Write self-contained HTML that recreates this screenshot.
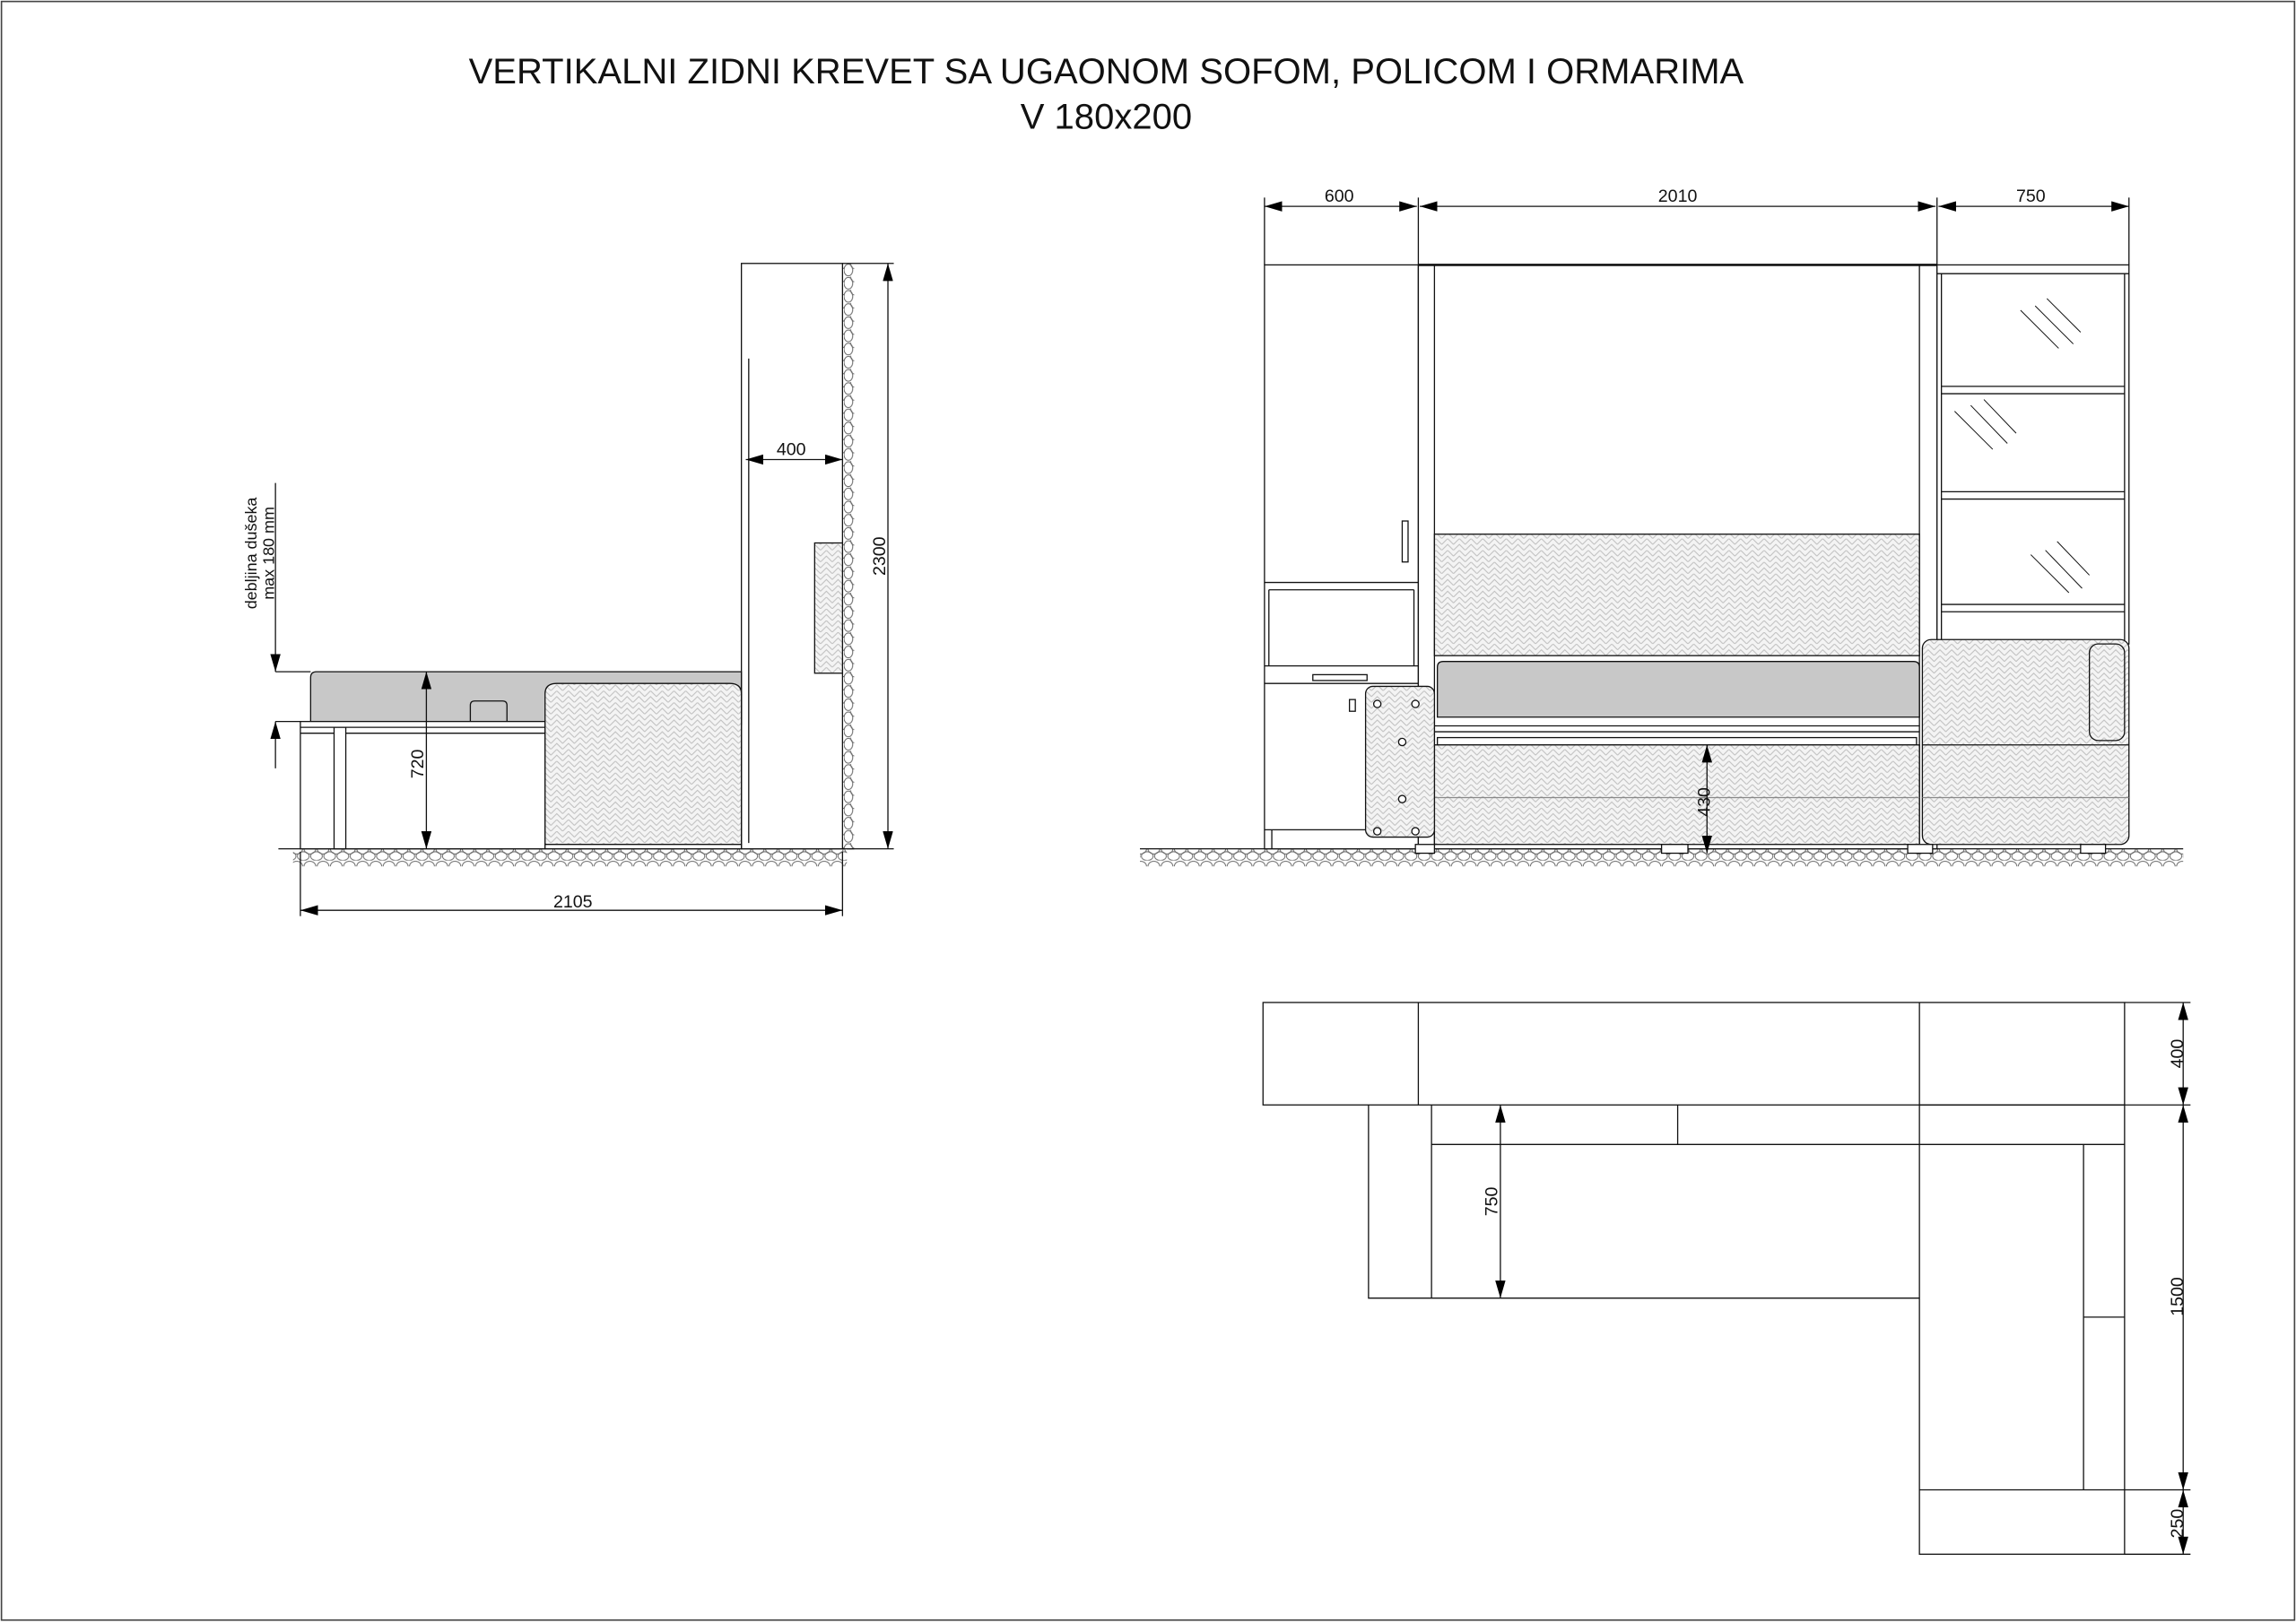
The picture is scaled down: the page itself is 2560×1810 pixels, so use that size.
<!DOCTYPE html>
<html><head><meta charset="utf-8"><style>
html,body{margin:0;padding:0;background:#fff;}
svg{display:block;}
text{font-family:"Liberation Sans",Arial,sans-serif;fill:#111;}
</style></head><body>
<svg width="2560" height="1810" viewBox="0 0 1567 1109" preserveAspectRatio="none" xmlns="http://www.w3.org/2000/svg">
<defs>
<pattern id="hb" width="8" height="8" patternUnits="userSpaceOnUse">
<rect width="8" height="8" fill="#f4f4f4"/>
<path d="M0 4 L4 0 L8 4 M0 8 L4 4 L8 8" stroke="#bdbdbd" stroke-width="0.6" fill="none"/>
</pattern>
<pattern id="gr" width="9" height="12" patternUnits="userSpaceOnUse">
<ellipse cx="4.5" cy="4" rx="4" ry="3.5" fill="none" stroke="#666" stroke-width="0.6"/>
<ellipse cx="0" cy="9" rx="4" ry="3" fill="none" stroke="#666" stroke-width="0.6"/>
<ellipse cx="9" cy="9" rx="4" ry="3" fill="none" stroke="#666" stroke-width="0.6"/>
</pattern>
<pattern id="gv" width="8" height="9" patternUnits="userSpaceOnUse">
<ellipse cx="3" cy="4.5" rx="3" ry="4" fill="none" stroke="#666" stroke-width="0.6"/>
<ellipse cx="7" cy="0" rx="2.5" ry="3.5" fill="none" stroke="#666" stroke-width="0.6"/>
</pattern>
<marker id="ar" markerWidth="12" markerHeight="7" refX="12" refY="3.5" orient="auto" markerUnits="userSpaceOnUse"><path d="M0 0 L12 3.5 L0 7Z" fill="#000"/></marker>
<marker id="al" markerWidth="12" markerHeight="7" refX="0" refY="3.5" orient="auto" markerUnits="userSpaceOnUse"><path d="M12 0 L0 3.5 L12 7Z" fill="#000"/></marker>
</defs>
<rect x="1" y="1" width="1565" height="1106" fill="none" stroke="#444" stroke-width="1"/>
<text x="755" y="57" font-size="24.5" text-anchor="middle">VERTIKALNI ZIDNI KREVET SA UGAONOM SOFOM, POLICOM I ORMARIMA</text>
<text x="755" y="88" font-size="24.5" text-anchor="middle">V 180x200</text>

<g stroke="#111" stroke-width="0.8" fill="none">
<!-- LEFT SIDE VIEW -->
<rect x="575" y="180" width="8" height="400" fill="url(#gv)" stroke="none"/>
<rect x="200" y="580" width="378" height="12" fill="url(#gr)" stroke="none"/>
<line x1="190" y1="580" x2="583" y2="580"/>
<rect x="506" y="180" width="69" height="400" fill="#fff"/>
<line x1="511" y1="245" x2="511" y2="576"/>
<rect x="556" y="371" width="19" height="89" fill="url(#hb)"/>
<line x1="509" y1="314" x2="575" y2="314" marker-start="url(#al)" marker-end="url(#ar)"/>
<line x1="575" y1="180" x2="610" y2="180"/><line x1="578" y1="580" x2="610" y2="580"/>
<line x1="606" y1="180" x2="606" y2="580" marker-start="url(#al)" marker-end="url(#ar)"/>
<path d="M212 495 L212 463 Q212 459 216 459 L506 459 L506 495Z" fill="#c8c8c8"/>
<path d="M321 495 L321 482 Q321 479 324 479 L343 479 Q346 479 346 482 L346 495" />
<rect x="205" y="493" width="167" height="87" fill="#fff"/>
<line x1="205" y1="497" x2="372" y2="497"/><line x1="205" y1="501" x2="372" y2="501"/>
<rect x="228" y="497" width="8" height="83" fill="#fff"/>
<path d="M372 577 L372 474 Q372 467 380 467 L498 467 Q506 467 506 474 L506 577Z" fill="url(#hb)"/>
<rect x="372" y="577" width="134" height="3" fill="#fff"/>
<line x1="291" y1="459" x2="291" y2="580" marker-start="url(#al)" marker-end="url(#ar)"/>
<line x1="188" y1="330" x2="188" y2="459" marker-end="url(#ar)"/>
<line x1="188" y1="459" x2="212" y2="459"/>
<line x1="188" y1="493" x2="205" y2="493"/>
<line x1="188" y1="525" x2="188" y2="493" marker-end="url(#ar)"/>
<line x1="205" y1="582" x2="205" y2="626"/><line x1="575" y1="582" x2="575" y2="626"/>
<line x1="205" y1="622" x2="575" y2="622" marker-start="url(#al)" marker-end="url(#ar)"/>

<!-- FRONT ELEVATION -->
<rect x="778" y="580" width="712" height="12" fill="url(#gr)" stroke="none"/>
<line x1="778" y1="580" x2="1490" y2="580"/>
<line x1="863" y1="135" x2="863" y2="181"/><line x1="968" y1="135" x2="968" y2="181"/>
<line x1="1322" y1="135" x2="1322" y2="181"/><line x1="1453" y1="135" x2="1453" y2="181"/>
<line x1="863" y1="141" x2="967" y2="141" marker-start="url(#al)" marker-end="url(#ar)"/>
<line x1="969" y1="141" x2="1321" y2="141" marker-start="url(#al)" marker-end="url(#ar)"/>
<line x1="1323" y1="141" x2="1453" y2="141" marker-start="url(#al)" marker-end="url(#ar)"/>
<rect x="863" y="181" width="105" height="399" fill="#fff"/>
<line x1="863" y1="398" x2="968" y2="398"/><line x1="866" y1="403" x2="965" y2="403"/>
<line x1="866" y1="403" x2="866" y2="455"/><line x1="965" y1="403" x2="965" y2="455"/>
<line x1="863" y1="455" x2="968" y2="455"/><line x1="863" y1="467" x2="968" y2="467"/>
<rect x="957" y="356" width="4" height="28"/>
<rect x="896" y="461" width="37" height="4"/>
<rect x="921" y="478" width="4" height="8"/>
<line x1="863" y1="567" x2="935" y2="567"/><line x1="868" y1="567" x2="868" y2="580"/>
<rect x="968" y="181" width="354" height="399" fill="#fff"/>
<line x1="968" y1="181" x2="1322" y2="181" stroke-width="1.6"/>
<line x1="979" y1="181" x2="979" y2="580"/><line x1="1310" y1="181" x2="1310" y2="580"/>
<rect x="979" y="365" width="331" height="83" fill="url(#hb)"/>
<path d="M981 490 L981 456 Q981 452 985 452 L1306 452 Q1310 452 1310 456 L1310 490Z" fill="#c8c8c8"/>
<line x1="979" y1="496" x2="1310" y2="496"/><line x1="979" y1="500" x2="1310" y2="500"/>
<rect x="981" y="504" width="327" height="5"/>
<rect x="979" y="509" width="331" height="68" fill="url(#hb)"/>
<line x1="979" y1="545" x2="1310" y2="545" stroke="#888"/>
<rect x="932" y="469" width="47" height="103" rx="5" fill="url(#hb)"/>
<g fill="#fff"><circle cx="940" cy="481" r="2.5"/><circle cx="966" cy="481" r="2.5"/><circle cx="957" cy="507" r="2.5"/><circle cx="957" cy="546" r="2.5"/><circle cx="940" cy="568" r="2.5"/><circle cx="966" cy="568" r="2.5"/></g>
<rect x="1322" y="181" width="131" height="259" fill="#fff"/>
<line x1="1325" y1="187" x2="1325" y2="440"/><line x1="1450" y1="187" x2="1450" y2="440"/>
<line x1="1322" y1="187" x2="1453" y2="187"/>
<line x1="1325" y1="264" x2="1450" y2="264"/><line x1="1325" y1="269" x2="1450" y2="269"/>
<line x1="1325" y1="336" x2="1450" y2="336"/><line x1="1325" y1="341" x2="1450" y2="341"/>
<line x1="1325" y1="413" x2="1450" y2="413"/><line x1="1325" y1="418" x2="1450" y2="418"/>
<g stroke-width="0.6"><line x1="1379" y1="212" x2="1405" y2="238"/><line x1="1389" y1="209" x2="1415" y2="235"/><line x1="1397" y1="204" x2="1420" y2="227"/>
<line x1="1334" y1="281" x2="1360" y2="307"/><line x1="1345" y1="277" x2="1370" y2="303"/><line x1="1354" y1="273" x2="1376" y2="296"/>
<line x1="1386" y1="379" x2="1412" y2="405"/><line x1="1396" y1="376" x2="1421" y2="402"/><line x1="1404" y1="370" x2="1426" y2="393"/></g>
<rect x="1312" y="437" width="141" height="140" rx="6" fill="url(#hb)"/>
<rect x="1426" y="440" width="24" height="66" rx="6" fill="url(#hb)"/>
<line x1="1312" y1="509" x2="1453" y2="509"/>
<line x1="1312" y1="545" x2="1453" y2="545" stroke="#888"/>
<g fill="#fff"><rect x="966" y="577" width="13" height="6"/><rect x="1134" y="577" width="18" height="6"/><rect x="1302" y="577" width="17" height="6"/><rect x="1420" y="577" width="17" height="6"/></g>
<line x1="1165" y1="509" x2="1165" y2="583" marker-start="url(#al)" marker-end="url(#ar)"/>

<!-- PLAN -->
<rect x="862" y="685" width="588" height="70"/>
<line x1="968" y1="685" x2="968" y2="755"/><line x1="1310" y1="685" x2="1310" y2="755"/>
<path d="M934 755 L934 887 L1310 887"/>
<line x1="977" y1="755" x2="977" y2="887"/>
<line x1="977" y1="782" x2="1450" y2="782"/>
<line x1="1145" y1="755" x2="1145" y2="782"/>
<rect x="1310" y="755" width="140" height="307"/>
<line x1="1422" y1="782" x2="1422" y2="1018"/>
<line x1="1422" y1="900" x2="1450" y2="900"/>
<line x1="1310" y1="1018" x2="1450" y2="1018"/>
<line x1="1450" y1="685" x2="1495" y2="685"/><line x1="1450" y1="755" x2="1495" y2="755"/>
<line x1="1450" y1="1018" x2="1495" y2="1018"/><line x1="1450" y1="1062" x2="1495" y2="1062"/>
<line x1="1490" y1="685" x2="1490" y2="755" marker-start="url(#al)" marker-end="url(#ar)"/>
<line x1="1490" y1="755" x2="1490" y2="1018" marker-start="url(#al)" marker-end="url(#ar)"/>
<line x1="1490" y1="1018" x2="1490" y2="1062" marker-start="url(#al)" marker-end="url(#ar)"/>
<line x1="1024" y1="755" x2="1024" y2="887" marker-start="url(#al)" marker-end="url(#ar)"/>
</g>

<g font-size="12">
<text x="540" y="311" text-anchor="middle">400</text>
<text x="391" y="620" text-anchor="middle">2105</text>
<text transform="translate(604,380) rotate(-90)" text-anchor="middle">2300</text>
<text transform="translate(289,522) rotate(-90)" text-anchor="middle">720</text>
<text transform="translate(175,378) rotate(-90)" text-anchor="middle" font-size="11">debljina dušeka</text>
<text transform="translate(187,378) rotate(-90)" text-anchor="middle" font-size="11">max 180 mm</text>
<text x="914" y="138" text-anchor="middle">600</text>
<text x="1145" y="138" text-anchor="middle">2010</text>
<text x="1386" y="138" text-anchor="middle">750</text>
<text transform="translate(1167,548) rotate(-90)" text-anchor="middle">430</text>
<text transform="translate(1022,821) rotate(-90)" text-anchor="middle">750</text>
<text transform="translate(1490,720) rotate(-90)" text-anchor="middle">400</text>
<text transform="translate(1490,886) rotate(-90)" text-anchor="middle">1500</text>
<text transform="translate(1490,1041) rotate(-90)" text-anchor="middle">250</text>
</g>
</svg>
</body></html>
